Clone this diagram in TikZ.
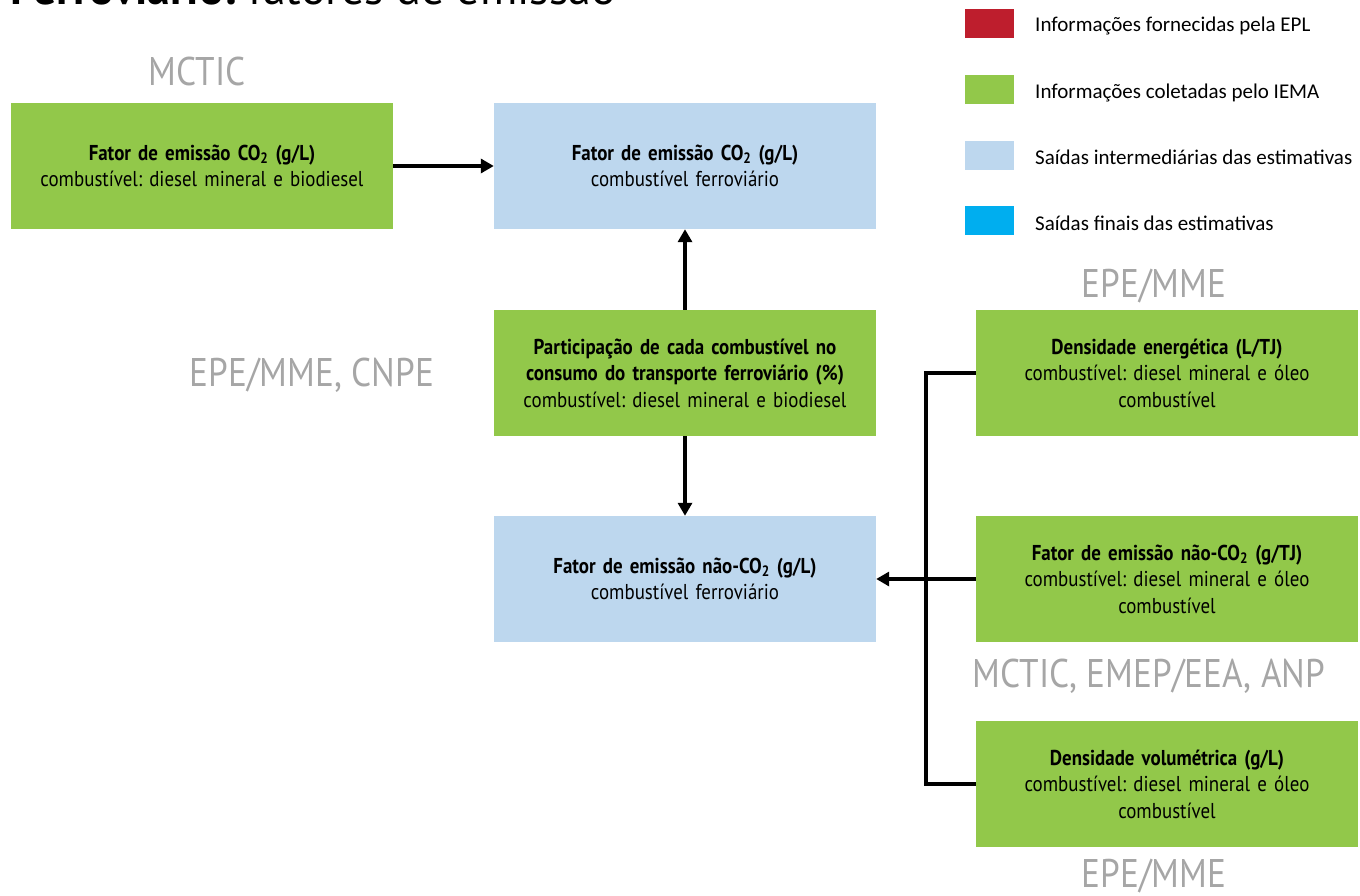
\documentclass[tikz,border=0pt]{standalone}
\usepackage{fontspec}
\setmainfont{PT Sans}[FakeStretch=0.88]
\newfontfamily\legfont{Carlito}
\newfontfamily\srcfont{PT Sans}[FakeStretch=0.88]
\newfontfamily\titlefont{PT Sans}
\usetikzlibrary{arrows.meta}
\frenchspacing
\definecolor{bxgreen}{RGB}{146,200,74}
\definecolor{bxblue}{RGB}{189,215,238}
\definecolor{bxred}{RGB}{190,30,45}
\definecolor{bxcyan}{RGB}{0,174,239}
\definecolor{srcgray}{RGB}{166,166,166}
\tikzset{
  box/.style={inner sep=0pt, minimum width=382pt, minimum height=126pt, align=center,
    font=\frenchspacing\fontsize{21.5}{26.5}\selectfont, text width=370pt},
  gbox/.style={box, fill=bxgreen},
  lbbox/.style={box, fill=bxblue},
  src/.style={text=srcgray, font=\srcfont\fontsize{40}{44}\selectfont, inner sep=0pt},
  legsq/.style={inner sep=0pt, minimum width=49pt, minimum height=29pt},
  legtxt/.style={font=\legfont\fontsize{21}{24}\selectfont, inner sep=0pt, anchor=base west},
  conn/.style={line width=3.5pt},
  arr/.style={conn, -{Triangle[length=13pt,width=14pt]}}
}
\begin{document}
\begin{tikzpicture}[x=1pt,y=-1pt]
\useasboundingbox (0,0) rectangle (1360,896);
% title (cut off at the top, as in the reference)
\node[anchor=base west, inner sep=0pt, font=\titlefont\fontsize{46}{50}\selectfont] (title) at (10,5)
  {\textbf{Ferroviário:} fatores de emissão};
% legend
\node[legsq, fill=bxred]   (l1) at (989.5,23.5) {};
\node[legsq, fill=bxgreen] (l2) at (989.5,89.5) {};
\node[legsq, fill=bxblue]  (l3) at (989.5,155.5) {};
\node[legsq, fill=bxcyan]  (l4) at (989.5,220.5) {};
\node[legtxt] (t1) at (1035,32) {Informações fornecidas pela EPL};
\node[legtxt] (t2) at (1035,99) {Informações coletadas pelo IEMA};
\node[legtxt] (t3) at (1035,165) {Saídas intermediárias das estimativas};
\node[legtxt] (t4) at (1035,230) {Saídas finais das estimativas};
% source labels
\node[src] (s1) at (197,72) {MCTIC};
\node[src] (s2) at (312,375) {EPE/MME, CNPE};
\node[src] (s3) at (1154,286) {EPE/MME};
\node[src] (s4) at (1149,676) {MCTIC, EMEP/EEA, ANP};
\node[src] (s5) at (1154,876) {EPE/MME};
% boxes
\node[gbox] (A) at (202,166) {\textbf{Fator de emissão CO\textsubscript{2} (g/L)}\\combustível: diesel mineral e biodiesel};
\node[lbbox] (B) at (685,166) {\textbf{Fator de emissão CO\textsubscript{2} (g/L)}\\combustível ferroviário};
\node[gbox] (C) at (685,373) {\textbf{Participação de cada combustível no}\\\textbf{consumo do transporte ferroviário (\%)}\\combustível: diesel mineral e biodiesel};
\node[lbbox] (D) at (685,579) {\textbf{Fator de emissão não-CO\textsubscript{2} (g/L)}\\combustível ferroviário};
\node[gbox] (E) at (1167,373) {\textbf{Densidade energética (L/TJ)}\\combustível: diesel mineral e óleo\\combustível};
\node[gbox] (F) at (1167,579) {\textbf{Fator de emissão não-CO\textsubscript{2} (g/TJ)}\\combustível: diesel mineral e óleo\\combustível};
\node[gbox] (G) at (1167,784) {\textbf{Densidade volumétrica (g/L)}\\combustível: diesel mineral e óleo\\combustível};
% connectors
\coordinate (bus) at (926,579);
\draw[arr] (A.east) -- (B.west);
\draw[arr] (C.north) -- (B.south);
\draw[arr] (C.south) -- (D.north);
\draw[conn] (E.west) -| (bus) |- (G.west);
\draw[arr] (F.west) -- (D.east);
\end{tikzpicture}
\end{document}
